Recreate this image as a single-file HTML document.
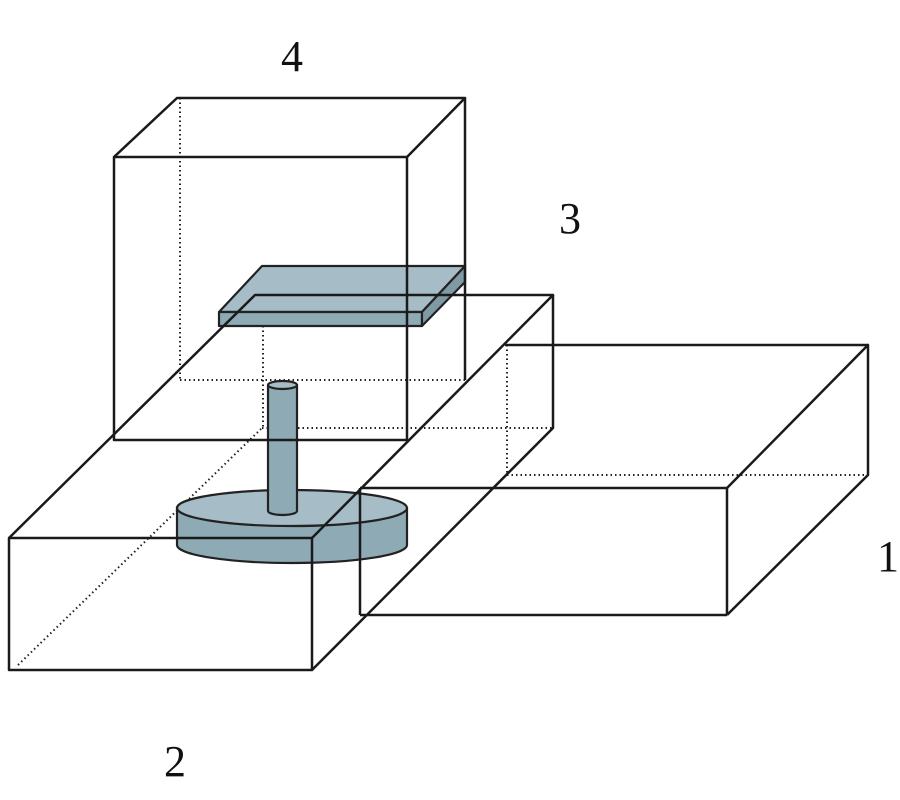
<!DOCTYPE html>
<html><head><meta charset="utf-8"><style>html,body{margin:0;padding:0;background:#fff}svg{display:block}</style></head>
<body>
<svg width="900" height="800" viewBox="0 0 900 800" xmlns="http://www.w3.org/2000/svg">
<g stroke="#222" stroke-width="2" stroke-dasharray="1.5 3" fill="none">
  <line x1="180" y1="98" x2="180" y2="380"/>
  <line x1="180" y1="380" x2="465" y2="380"/>
  <line x1="18" y1="665" x2="262" y2="428"/>
  <line x1="262" y1="428" x2="553" y2="428"/>
  <line x1="263" y1="326" x2="263" y2="428"/>
  <line x1="507" y1="345" x2="507" y2="475"/>
  <line x1="507" y1="475" x2="868" y2="475"/>
</g>
<g stroke="#222" stroke-width="2.2" stroke-linejoin="round">
  <polygon points="219,312 262,266 465,266 422,312" fill="#a6bdc7"/>
  <polygon points="219,312 422,312 422,326 219,326" fill="#8eaab5"/>
  <polygon points="422,312 465,266 465,282 422,326" fill="#7f9aa5"/>
</g>
<g stroke="#222" stroke-width="2.2">
  <path d="M177,508 L177,545 A115,18 0 0 0 407,545 L407,508 Z" fill="#8eaab5"/>
  <ellipse cx="292" cy="508" rx="115" ry="18" fill="#a6bdc7"/>
  <rect x="268" y="385" width="29" height="126" fill="#8eaab5" stroke="none"/>
  <path d="M268,385 L268,511 A14.5,4 0 0 0 297,511 L297,385" fill="#8eaab5"/>
  <ellipse cx="282.5" cy="385" rx="14.5" ry="4" fill="#a6bdc7"/>
</g>
<g stroke="#1a1a1a" stroke-width="2.5" fill="none" stroke-linejoin="round">
  <rect x="114" y="157" width="293" height="283"/>
  <polyline points="114,157 177,98 465,98 407,157"/>
  <line x1="465" y1="98" x2="465" y2="380"/>
  <rect x="9" y="538" width="303" height="132"/>
  <polyline points="9,538 255,295 553,295 312,538"/>
  <polyline points="553,295 553,428 312,670"/>
  <line x1="360" y1="488" x2="727" y2="488"/>
  <line x1="360" y1="488" x2="360" y2="615"/>
  <line x1="360" y1="615" x2="727" y2="615"/>
  <line x1="727" y1="488" x2="727" y2="615"/>
  <polyline points="727,488 868,345 868,475 727,615"/>
  <line x1="505" y1="345" x2="868" y2="345"/>
</g>
<g font-family="Liberation Serif, serif" font-size="44" fill="#111" text-anchor="middle">
  <text x="292" y="71">4</text>
  <text x="570" y="233">3</text>
  <text x="888" y="571">1</text>
  <text x="175" y="776">2</text>
</g>
</svg>
</body></html>
